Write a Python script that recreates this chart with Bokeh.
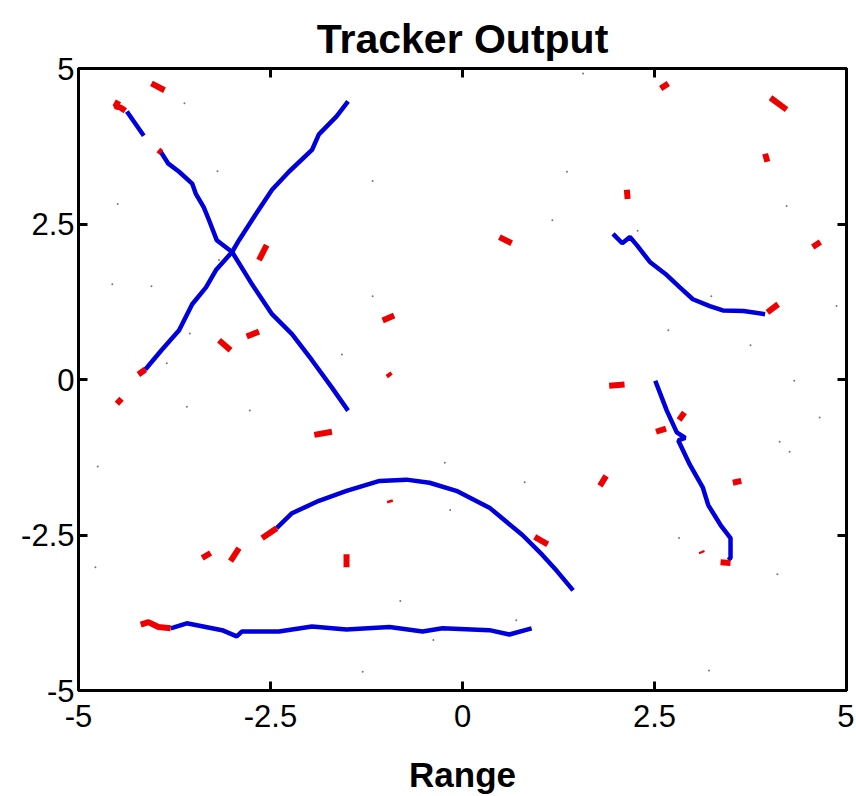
from bokeh.plotting import figure
from bokeh.models import Range1d, FixedTicker, LinearAxis
from bokeh.embed import file_html
from bokeh.resources import INLINE

# ---- data ----
track_a_x = [-4.37, -4.15, -3.93, -3.83, -3.69, -3.52, -3.47, -3.37, -3.30, -3.20, -3.00, -2.74, -2.48, -2.22, -1.96, -1.70, -1.49]
track_a_y = [4.31, 3.92, 3.66, 3.47, 3.34, 3.15, 2.98, 2.77, 2.56, 2.24, 2.05, 1.53, 1.05, 0.73, 0.31, -0.13, -0.50]
track_a_gap = 2  # gap after the 2nd point
track_b_x = [-1.49, -1.64, -1.87, -1.96, -2.26, -2.48, -2.69, -2.91, -3.00, -3.21, -3.34, -3.52, -3.69, -3.92, -4.13]
track_b_y = [4.47, 4.23, 3.94, 3.69, 3.34, 3.05, 2.66, 2.24, 2.05, 1.76, 1.48, 1.21, 0.79, 0.47, 0.16]
track_c_x = [1.96, 2.08, 2.18, 2.27, 2.44, 2.66, 2.83, 3.00, 3.22, 3.39, 3.66, 3.94]
track_c_y = [2.34, 2.19, 2.29, 2.16, 1.89, 1.68, 1.48, 1.29, 1.18, 1.11, 1.10, 1.05]
track_d_x = [2.51, 2.66, 2.79, 2.90, 2.81, 2.96, 3.13, 3.20, 3.36, 3.49, 3.49, 3.46]
track_d_y = [-0.02, -0.50, -0.85, -0.94, -0.98, -1.37, -1.74, -2.02, -2.34, -2.55, -2.87, -2.90]
track_e_x = [-2.42, -2.22, -1.87, -1.51, -1.08, -0.73, -0.43, -0.08, 0.35, 0.78, 1.04, 1.23, 1.44]
track_e_y = [-2.39, -2.15, -1.95, -1.79, -1.63, -1.61, -1.66, -1.79, -2.06, -2.50, -2.82, -3.08, -3.39]
track_f_x = [-3.80, -3.59, -3.13, -2.94, -2.87, -2.39, -1.96, -1.51, -0.95, -0.52, -0.26, 0.35, 0.61, 0.90]
track_f_y = [-4.00, -3.92, -4.03, -4.13, -4.05, -4.05, -3.97, -4.02, -3.98, -4.05, -4.00, -4.03, -4.10, -4.00]

# red detection segments (each a short polyline)
seg_x = [[-4.05, -3.88], [-4.48, -4.52, -4.45, -4.39], [-3.96, -3.92], [-2.55, -2.65], [-3.17, -3.02],
         [-2.81, -2.65], [-4.22, -4.13], [-4.50, -4.44], [-1.93, -1.70], [-1.04, -0.89], [-0.97, -0.94],
         [0.48, 0.64], [-3.39, -3.28], [-3.02, -2.91], [-1.51, -1.51], [-0.95, -0.94], [0.94, 1.11],
         [2.58, 2.68], [4.01, 4.22], [3.94, 3.97], [2.14, 2.15], [4.56, 4.66], [3.97, 4.11],
         [1.91, 2.11], [2.82, 2.89], [2.52, 2.65], [1.79, 1.87], [3.52, 3.63], [3.11, 3.12],
         [3.36, 3.49], [-2.61, -2.42], [-4.19, -4.09, -3.96, -3.80]]
seg_y = [[4.76, 4.65], [4.48, 4.39, 4.37, 4.32], [3.69, 3.65], [2.16, 1.92], [0.63, 0.47],
         [0.69, 0.77], [0.08, 0.16], [-0.39, -0.31], [-0.89, -0.84], [0.95, 1.03], [0.10, 0.05],
         [2.29, 2.19], [-2.87, -2.79], [-2.92, -2.71], [-2.81, -3.02], [-1.94, -1.98], [-2.53, -2.65],
         [4.68, 4.76], [4.53, 4.34], [3.63, 3.50], [3.05, 2.90], [2.13, 2.21], [1.08, 1.21],
         [-0.10, -0.08], [-0.65, -0.53], [-0.84, -0.79], [-1.71, -1.55], [-1.66, -1.63], [-2.76, -2.79],
         [-2.94, -2.95], [-2.55, -2.39], [-3.94, -3.90, -3.98, -4.00]]

# faint clutter points
dot_x = [-3.62, -3.19, -4.49, -1.17, -4.56, -4.05, -3.55, -3.85, -3.59, -2.77, -1.57, -1.17, -3.17,
         1.57, 1.36, 1.17, 2.28, 4.22, 4.87, 2.68, 3.75, 3.24, 4.32, 4.65, 4.13, 4.26, 2.82, 4.10,
         -4.75, -4.78, -0.23, 0.81, -0.16, -0.81, 0.70, -0.38, 3.21, -1.30]
dot_y = [4.44, 3.35, 2.82, 3.19, 1.53, 1.50, 0.74, 0.26, -0.44, -0.50, 0.40, 1.34, 1.92,
         4.92, 3.34, 2.56, 2.39, 2.79, 1.18, 0.79, 0.55, 1.34, -0.02, -0.61, -1.00, -1.16, -2.55, -3.13,
         -1.40, -3.02, -1.34, -1.65, -2.10, -3.56, -3.87, -4.19, -4.68, -4.70]

ticks = [-5, -2.5, 0, 2.5, 5]
tick_labels = ["-5", "-2.5", "0", "2.5", "5"]

BLUE = "#0000dd"
RED = "#ee0000"

p = figure(output_backend="svg", toolbar_location=None,
           x_range=Range1d(-5, 5), y_range=Range1d(-5, 5),
           frame_width=768, frame_height=622,
           min_border_left=78, min_border_right=8, min_border_top=68, min_border_bottom=104,
           title="Tracker Output", x_axis_label="Range")

p.background_fill_color = "white"
p.border_fill_color = "white"
p.grid.visible = False
p.outline_line_color = "black"
p.outline_line_width = 3

p.title.text_font = "Liberation Sans"
p.title.text_font_size = "41px"
p.title.text_font_style = "bold"
p.title.align = "center"
p.title.vertical_align = "top"
p.title.text_line_height = 0.8
p.title.text_color = "black"
p.title.standoff = 10

overrides = {t: s for t, s in zip(ticks, tick_labels)}
for ax in (p.xaxis[0], p.yaxis[0]):
    ax.ticker = FixedTicker(ticks=ticks)
    ax.major_label_overrides = overrides
    ax.major_tick_in = 9
    ax.major_tick_out = 0
    ax.minor_tick_in = 0
    ax.minor_tick_out = 0
    ax.major_tick_line_width = 3
    ax.axis_line_width = 3
    ax.major_label_text_font = "Liberation Sans"
    ax.major_label_text_font_size = "31px"
    ax.major_label_text_color = "black"
p.xaxis[0].major_label_standoff = 14
p.yaxis[0].major_label_standoff = 4

p.xaxis.axis_label_text_font = "Liberation Sans"
p.xaxis.axis_label_text_font_size = "35px"
p.xaxis.axis_label_text_font_style = "bold"
p.xaxis.axis_label_text_color = "black"
p.xaxis.axis_label_standoff = 25

for side in ("above", "right"):
    ax = LinearAxis(ticker=FixedTicker(ticks=ticks))
    ax.major_tick_in = 9
    ax.major_tick_out = 0
    ax.minor_tick_in = 0
    ax.minor_tick_out = 0
    ax.major_tick_line_width = 3
    ax.axis_line_width = 3
    ax.major_label_text_font_size = "0px"
    ax.major_label_text_alpha = 0
    ax.major_label_standoff = 0
    p.add_layout(ax, side)

# clutter
p.scatter(dot_x, dot_y, size=2, color="#777777", line_width=0)

# blue tracks
p.line(track_a_x[:track_a_gap], track_a_y[:track_a_gap], line_color=BLUE, line_width=4.5)
p.line(track_a_x[track_a_gap:], track_a_y[track_a_gap:], line_color=BLUE, line_width=4.5)
for tx, ty in ((track_b_x, track_b_y), (track_c_x, track_c_y), (track_d_x, track_d_y),
               (track_e_x, track_e_y), (track_f_x, track_f_y)):
    p.line(tx, ty, line_color=BLUE, line_width=4.5)

# red segments
p.multi_line(seg_x, seg_y, line_color=RED, line_width=6)

open("out.html", "w").write(file_html(p, INLINE))
